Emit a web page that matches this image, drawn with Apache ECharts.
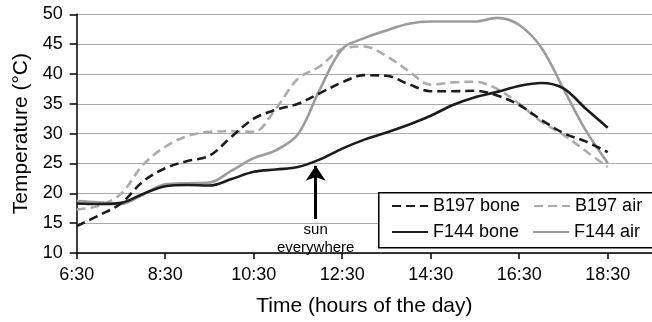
<!DOCTYPE html>
<html>
<head>
<meta charset="utf-8">
<script src="https://cdn.jsdelivr.net/npm/echarts@6/dist/echarts.min.js"></script>
<style>
html,body{margin:0;padding:0;background:#fff;}
#chart{width:652px;height:322px;}
</style>
</head>
<body>
<div id="chart"></div>
<script>
// Time in hours of the day (6.5 = 6:30)
var times = [6.5,7,7.5,8,8.5,9,9.5,10,10.5,11,11.5,12,12.5,13,13.5,14,14.5,15,15.5,16,16.5,17,17.5,18,18.5];
var b197Bone = [14.5,16.3,18.3,22.0,24.2,25.4,26.3,29.5,32.5,34.0,35.0,36.8,38.6,39.8,39.7,38.3,37.1,37.1,37.2,36.4,34.8,32.3,30.1,28.7,26.9];
var b197Air  = [17.3,17.9,19.9,24.8,27.8,29.6,30.3,30.4,30.3,34.2,39.2,41.3,44.2,44.6,43.0,40.5,38.2,38.6,38.7,37.5,35.0,32.0,29.8,27.1,24.4];
var f144Bone = [18.3,18.2,18.4,19.9,21.2,21.4,21.3,22.4,23.6,24.0,24.4,25.7,27.5,29.0,30.2,31.5,33.0,34.8,36.1,37.0,38.0,38.5,37.6,34.2,31.0];
var f144Air  = [18.7,18.5,18.2,19.8,21.5,21.7,21.8,23.8,25.9,27.2,29.9,37.5,44.2,46.0,47.3,48.4,48.8,48.8,48.8,49.4,48.2,44.4,37.5,30.6,25.1];
var xTickLabels = ['6:30','8:30','10:30','12:30','14:30','16:30','18:30'];
var yTickLabels = ['10','15','20','25','30','35','40','45','50'];
var seriesNames = ['B197 bone','B197 air','F144 bone','F144 air'];
// annotation: arrow "sun everywhere"
var arrowTime = 11.9, arrowFrom = 15.7, arrowTo = 24.6;
var annotationText = 'sun\neverywhere';

function pairs(vals){ return times.map(function(t,i){ return [t, vals[i]]; }); }

var FONT = '"Liberation Sans", Arial, sans-serif';
var chart = echarts.init(document.getElementById('chart'), null, {renderer:'canvas'});
var legendCommon = {left: 386, itemWidth: 36, itemHeight: 14, itemGap: 13, z: 5,
  itemStyle: {opacity: 0},
  textStyle: {fontSize: 18, color: '#000', lineHeight: 20, fontFamily: FONT}};
var option = {
  animation: false,
  backgroundColor: '#fff',
  textStyle: {fontFamily: FONT},
  grid: {left: 76.7, top: 14.3, width: 577, height: 242.4, containLabel: false},
  xAxis: {
    type: 'value', min: 6.5, max: 19.5, interval: 2,
    name: 'Time (hours of the day)', nameLocation: 'middle', nameGap: 43,
    nameTextStyle: {fontSize: 21, color: '#000', fontFamily: FONT},
    axisLine: {lineStyle: {color: '#000', width: 1.5}},
    axisTick: {show: true, length: 6, lineStyle: {color: '#000', width: 1.5}},
    axisLabel: {fontSize: 18, color: '#000', margin: 13, fontFamily: FONT, showMaxLabel: false,
      formatter: function(v){ var i = Math.round((v - 6.5) / 2); return xTickLabels[i] || ''; }},
    splitLine: {show: false}
  },
  yAxis: {
    type: 'value', min: 10, max: 50, interval: 5,
    name: 'Temperature (°C)', nameLocation: 'middle', nameGap: 45,
    nameTextStyle: {fontSize: 21, color: '#000', fontFamily: FONT},
    axisLine: {show: true, lineStyle: {color: '#000', width: 1.5}},
    axisTick: {show: true, length: 7, lineStyle: {color: '#000', width: 1.5}},
    axisLabel: {fontSize: 18, color: '#000', margin: 14, fontFamily: FONT,
      formatter: function(v){ var i = Math.round((v - 10) / 5); return yTickLabels[i]; }},
    splitLine: {show: true, lineStyle: {color: '#aaa', width: 1.2}}
  },
  legend: [
    Object.assign({data: [seriesNames[0], seriesNames[1]], top: 191}, legendCommon),
    Object.assign({data: [seriesNames[2], seriesNames[3]], top: 217}, legendCommon)
  ],
  graphic: [
    {type: 'rect', left: 378, top: 192, z: 3, shape: {width: 290, height: 55},
     style: {fill: '#fff', stroke: '#000', lineWidth: 1.5}}
  ],
  series: [
    {name: seriesNames[1], type: 'line', data: pairs(b197Air), smooth: 0.35, symbol: 'none',
     itemStyle: {color: '#ababab'}, lineStyle: {color: '#ababab', width: 2.6, type: [9, 5]}},
    {name: seriesNames[3], type: 'line', data: pairs(f144Air), smooth: 0.35, symbol: 'none',
     itemStyle: {color: '#9c9c9c'}, lineStyle: {color: '#9c9c9c', width: 2.6}},
    {name: seriesNames[0], type: 'line', data: pairs(b197Bone), smooth: 0.35, symbol: 'none',
     itemStyle: {color: '#1c1c1c'}, lineStyle: {color: '#1c1c1c', width: 2.6, type: [9, 5]}},
    {name: seriesNames[2], type: 'line', data: pairs(f144Bone), smooth: 0.35, symbol: 'none',
     itemStyle: {color: '#1c1c1c'}, lineStyle: {color: '#1c1c1c', width: 2.6},
     markLine: {
       silent: true, symbol: ['none', 'arrow'], symbolSize: 15,
       lineStyle: {color: '#000', width: 3, type: 'solid'},
       label: {show: true, position: 'start', formatter: annotationText, fontSize: 15, lineHeight: 18, color: '#000', fontFamily: FONT, distance: 2},
       data: [[{coord: [arrowTime, arrowFrom]}, {coord: [arrowTime, arrowTo]}]]
     }}
  ]
};
chart.setOption(option);
</script>
</body>
</html>
